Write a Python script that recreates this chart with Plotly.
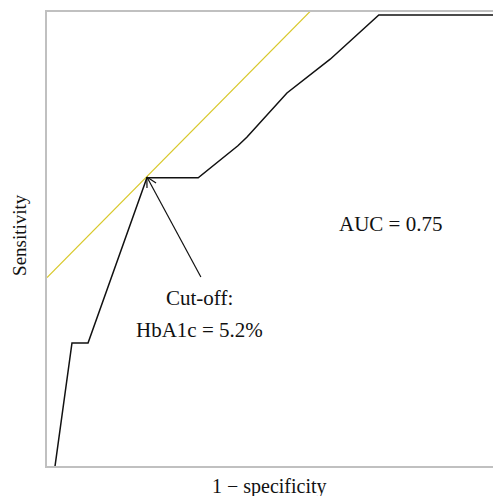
import numpy as np
import plotly.graph_objects as go

# ROC curve (1 - specificity, sensitivity)
roc_fpr = [0.018, 0.056, 0.092, 0.224, 0.339, 0.428, 0.448, 0.538, 0.635, 0.744, 1.0]
roc_tpr = [0.0, 0.273, 0.273, 0.639, 0.639, 0.710, 0.729, 0.827, 0.902, 1.0, 1.0]

# Tangent (Youden) line through the cut-off
tangent_x = [0.0, 0.62]
tangent_y = [0.418, 1.038]

cutoff_point = (0.224, 0.641)
arrow_tail = (0.345, 0.419)

auc_label = "AUC = 0.75"
cutoff_label_1 = "Cut-off:"
cutoff_label_2 = "HbA1c = 5.2%"
x_title = "1 \u2212 specificity"
y_title = "Sensitivity"

FONT = "Liberation Serif"

fig = go.Figure()
fig.add_trace(go.Scatter(x=tangent_x, y=tangent_y, mode="lines",
                         line=dict(color="#d8c82a", width=1.2), hoverinfo="skip"))
fig.add_trace(go.Scatter(x=roc_fpr, y=roc_tpr, mode="lines",
                         line=dict(color="#111111", width=1.5), hoverinfo="skip"))

# Arrow with open chevron head (computed in pixel space)
px_x, px_y = 446.0, 451.0
tx, ty = cutoff_point
sx, sy = arrow_tail
dx, dy = (sx - tx) * px_x, (sy - ty) * px_y
L = np.hypot(dx, dy)
ux, uy = dx / L, dy / L
hx, hy = [], []
for ang in (np.radians(28), -np.radians(28)):
    rx = ux * np.cos(ang) - uy * np.sin(ang)
    ry = ux * np.sin(ang) + uy * np.cos(ang)
    hx += [tx + rx * 11 / px_x, tx, None]
    hy += [ty + ry * 11 / px_y, ty, None]
fig.add_trace(go.Scatter(x=[sx, tx, None] + hx, y=[sy, ty, None] + hy, mode="lines",
                         line=dict(color="#111111", width=1.2), hoverinfo="skip"))

font = dict(family=FONT, size=21, color="#111111")
font_ax = dict(family=FONT, size=20, color="#111111")
fig.add_annotation(x=0.771, y=0.537, text=auc_label, showarrow=False, font=font)
fig.add_annotation(x=0.341, y=0.373, text=cutoff_label_1, showarrow=False, font=font)
fig.add_annotation(x=0.343, y=0.302, text=cutoff_label_2, showarrow=False, font=font)
fig.add_annotation(xref="paper", yref="paper", x=0.498, y=-0.046, text=x_title,
                   showarrow=False, font=font_ax, yanchor="middle")
fig.add_annotation(xref="paper", yref="paper", x=-0.0605, y=0.509, text=y_title,
                   showarrow=False, font=dict(family=FONT, size=19, color="#111111"),
                   textangle=-90, xanchor="center")

fig.update_layout(
    width=493, height=496,
    margin=dict(l=47, r=0, t=12, b=30),
    paper_bgcolor="white", plot_bgcolor="white",
    showlegend=False,
    xaxis=dict(range=[0, 1], showgrid=False, zeroline=False, showticklabels=False,
               ticks="", showline=True, linecolor="#c0c0c0", linewidth=2, mirror=True),
    yaxis=dict(range=[0, 1.00665], showgrid=False, zeroline=False, showticklabels=False,
               ticks="", showline=True, linecolor="#c0c0c0", linewidth=2),
)

fig.write_html(
    "out.html",
    config={"displayModeBar": False},
    post_script="document.body.style.margin='0';document.body.style.overflow='hidden';",
)
